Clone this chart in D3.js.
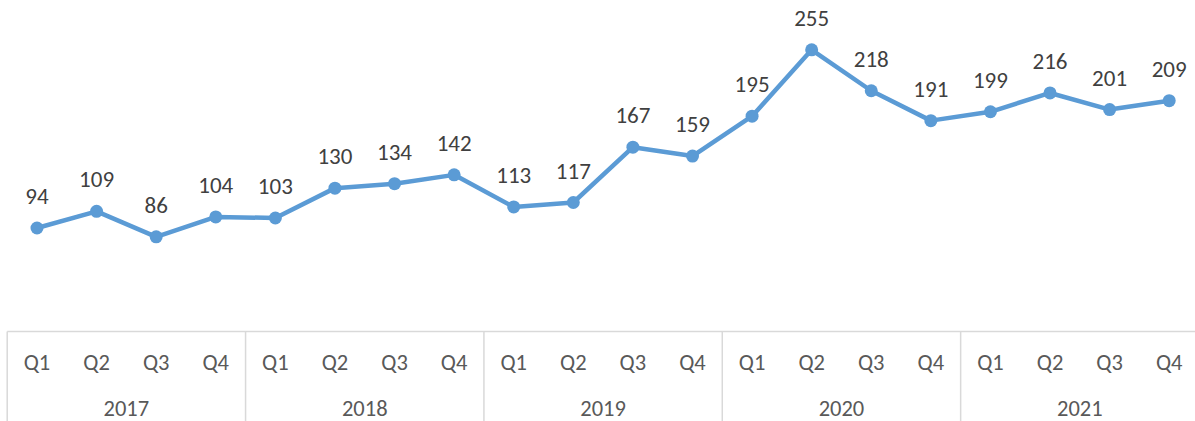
<!DOCTYPE html>
<html><head><meta charset="utf-8">
<script src="https://cdn.jsdelivr.net/npm/d3@7"></script>
<style>body{margin:0;background:#fff}svg{display:block}text{font-family:Carlito,"Liberation Sans",Arial,sans-serif}</style>
</head><body><svg id="c" width="1195" height="421"></svg>
<script>
const years = ["2017","2018","2019","2020","2021"];
const quarters = ["Q1","Q2","Q3","Q4"];
const values = [94,109,86,104, 103,130,134,142, 113,117,167,159, 195,255,218,191, 199,216,201,209];
const yDomain = [0,300];

const svg = d3.select("#c");
const W = 1195, H = 421;
const left = 7.2, right = 1199, axisY = 332;
const cats = [];
years.forEach(y => quarters.forEach(q => cats.push(y + "-" + q)));
const x = d3.scaleBand().domain(cats).range([left, right]);
const y = d3.scaleLinear().domain(yDomain).range([axisY, 0]);
const cx = i => x(cats[i]) + x.bandwidth() / 2;

const grid = "#d9d9d9";
svg.append("line").attr("x1", left).attr("x2", right).attr("y1", axisY - 0.5).attr("y2", axisY - 0.5)
  .attr("stroke", grid).attr("stroke-width", 1.5);
years.forEach((yr, j) => {
  const xv = x(yr + "-Q1");
  svg.append("line").attr("x1", xv).attr("x2", xv).attr("y1", axisY - 0.5).attr("y2", H)
    .attr("stroke", grid).attr("stroke-width", 1.5);
});

svg.append("g").selectAll("text").data(cats).join("text")
  .attr("x", (d, i) => cx(i)).attr("y", 370).attr("text-anchor", "middle")
  .attr("font-size", 22.5).attr("fill", "#595959").text(d => d.split("-")[1]);
svg.append("g").selectAll("text").data(years).join("text")
  .attr("x", d => (x(d + "-Q1") + x(d + "-Q4") + x.bandwidth()) / 2).attr("y", 416)
  .attr("text-anchor", "middle").attr("font-size", 22.5).attr("fill", "#595959").text(d => d);

const line = d3.line().x((d, i) => cx(i)).y(d => y(d));
svg.append("path").datum(values).attr("d", line).attr("fill", "none")
  .attr("stroke", "#5b9bd5").attr("stroke-width", 4.5).attr("stroke-linejoin", "round");
svg.append("g").selectAll("circle").data(values).join("circle")
  .attr("cx", (d, i) => cx(i)).attr("cy", d => y(d)).attr("r", 6.5).attr("fill", "#5b9bd5");
svg.append("g").selectAll("text").data(values).join("text")
  .attr("x", (d, i) => cx(i)).attr("y", d => y(d) - 24).attr("text-anchor", "middle")
  .attr("font-size", 23).attr("fill", "#404040").text(d => d);
</script></body></html>
